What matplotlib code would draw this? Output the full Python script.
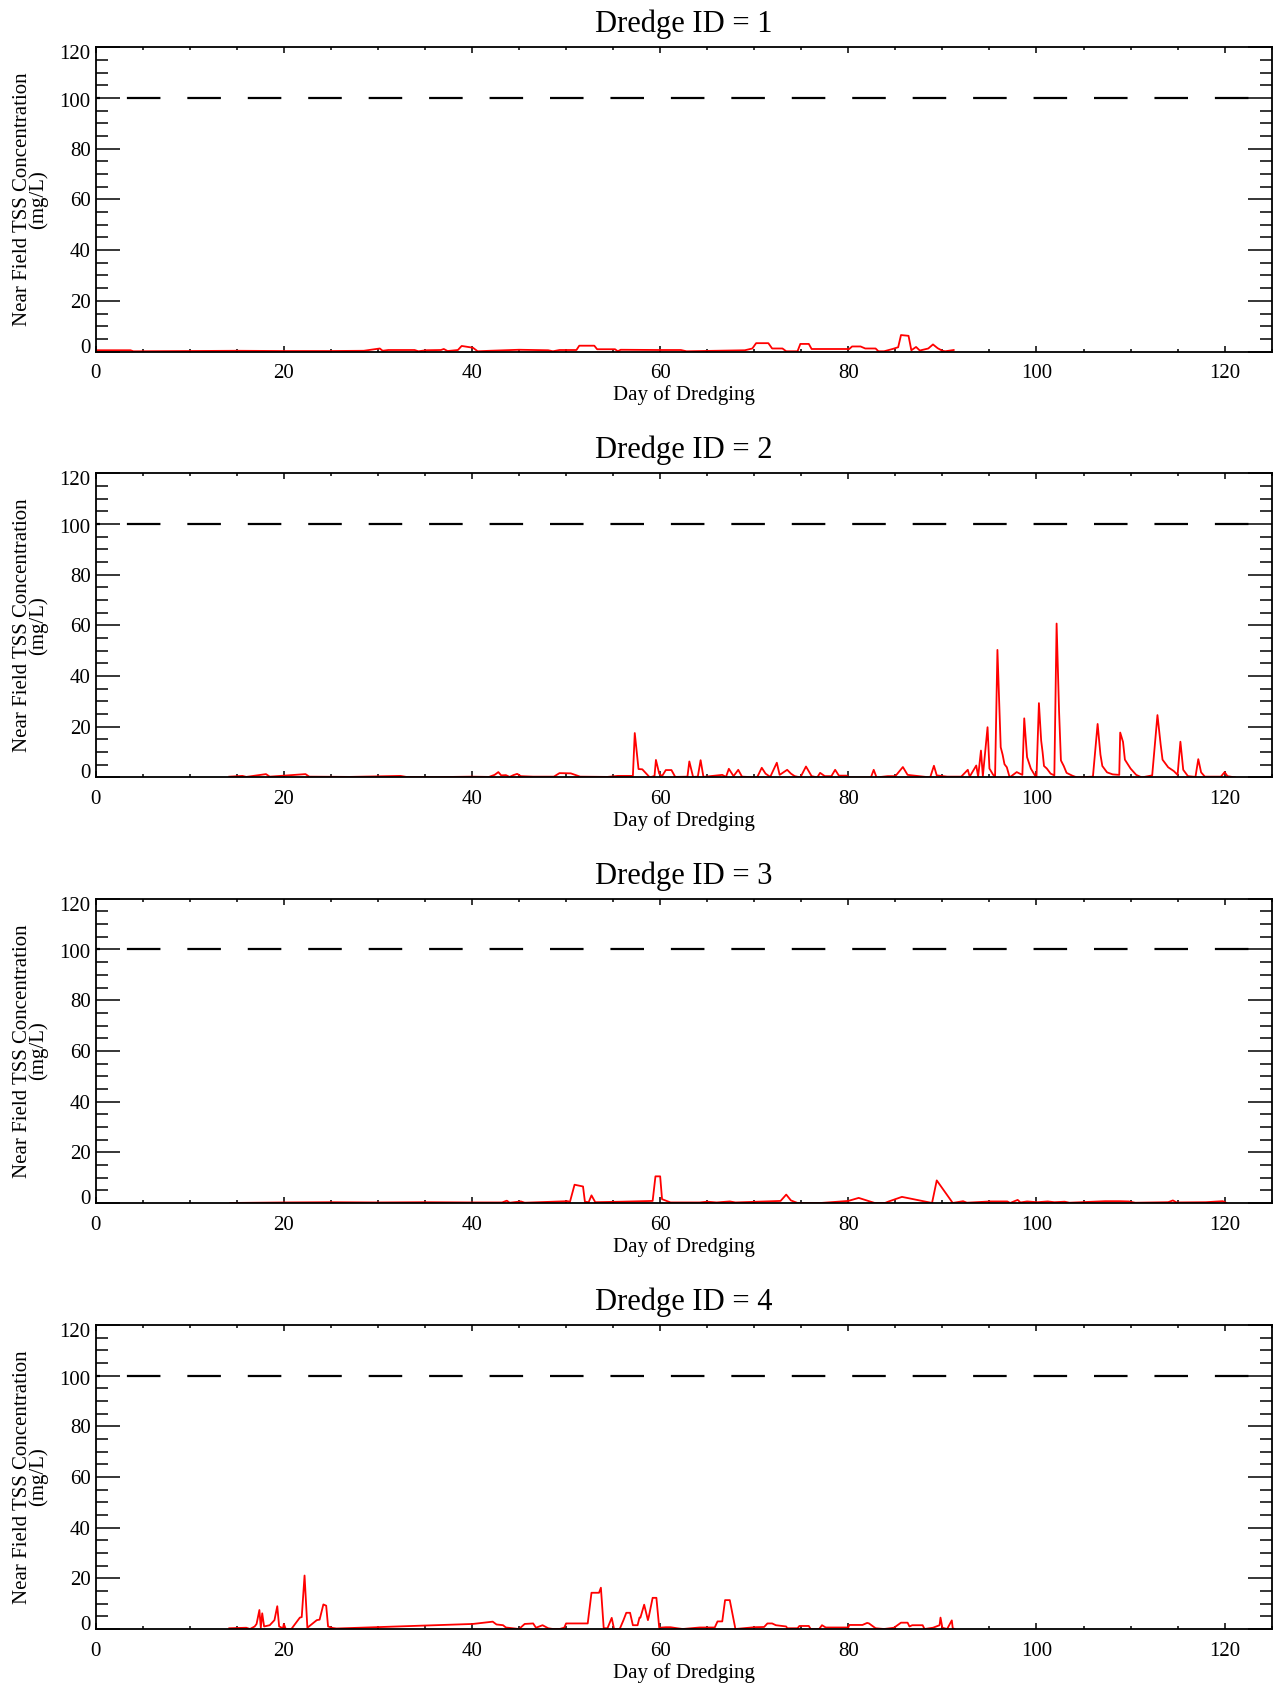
import matplotlib
matplotlib.use("Agg")
import matplotlib.pyplot as plt
import matplotlib.transforms as mtransforms
from matplotlib.ticker import MultipleLocator

plt.rcParams['font.family'] = ['Liberation Serif', 'DejaVu Serif']

# Near field TSS (mg/L) per day of dredging
day1 = [0, 3.7, 4.0, 10, 15, 20, 25, 28.5, 30.2, 30.5,
        31.1, 33.9, 34.3, 35.1, 36.7, 37.0, 37.4, 38.5, 38.9, 40.1,
        40.6, 41.9, 45.0, 48.1, 48.6, 49.3, 51.1, 51.4, 53.0, 53.3,
        55.2, 55.5, 55.8, 60.1, 62.2, 62.8, 69.0, 69.8, 70.2, 71.5,
        71.9, 73.0, 73.4, 74.6, 74.9, 75.8, 76.1, 77.0, 80.1, 80.4,
        81.3, 81.8, 82.9, 83.2, 83.8, 84.7, 85.3, 85.6, 86.4, 86.7,
        87.2, 87.6, 88.5, 89.0, 89.5, 90.0, 90.3, 91.2]
tss1 = [0.5, 0.5, 0.1, 0.2, 0.3, 0.2, 0.2, 0.3, 1.2, 0.3,
        0.6, 0.6, 0.1, 0.5, 0.6, 1.0, 0.2, 0.6, 2.2, 1.5,
        0.1, 0.3, 0.7, 0.5, 0.1, 0.6, 0.6, 2.3, 2.3, 0.9,
        0.9, 0.1, 0.7, 0.6, 0.6, 0.1, 0.5, 1.2, 3.3, 3.3,
        1.2, 1.2, 0.1, 0.1, 3.0, 3.0, 1.0, 1.0, 1.0, 2.0,
        2.0, 1.2, 1.2, 0.1, 0.1, 1.0, 1.7, 6.5, 6.2, 0.5,
        1.8, 0.4, 1.2, 2.8, 1.3, 0.3, 0.1, 0.6]

day2 = [14.2, 15.6, 16.0, 18.1, 18.5, 22.3, 22.7, 27.0, 32.4, 33.0,
        36.0, 39.9, 41.8, 42.4, 42.8, 43.1, 43.6, 44.0, 44.4, 44.8,
        45.2, 46.5, 48.7, 49.3, 50.5, 51.5, 54.4, 55.5, 57.1, 57.3,
        57.7, 58.1, 58.9, 59.4, 59.55, 59.9, 60.2, 60.6, 61.2, 61.6,
        62.9, 63.1, 63.5, 64.0, 64.3, 64.6, 66.6, 67.0, 67.3, 67.8,
        68.3, 68.7, 70.3, 70.8, 71.2, 71.7, 72.4, 72.7, 73.5, 73.9,
        74.3, 74.9, 75.5, 76.1, 76.7, 77.0, 77.5, 78.2, 78.6, 79.0,
        79.8, 80.2, 82.4, 82.7, 83.0, 84.2, 85.0, 85.8, 86.3, 88.7,
        89.1, 89.4, 90.5, 92.0, 92.7, 92.9, 93.6, 93.8, 94.1, 94.3,
        94.8, 95.0, 95.4, 95.6, 95.85, 96.2, 96.4, 96.6, 96.85, 97.15,
        97.9, 98.5, 98.7, 99.0, 99.4, 99.8, 100.0, 100.26, 100.5, 100.65,
        100.8, 101.1, 101.5, 101.9, 102.14, 102.4, 102.6, 102.9, 103.2, 103.8,
        104.3, 106.0, 106.5, 106.8, 107.0, 107.5, 108.1, 108.8, 108.9, 109.2,
        109.4, 110.0, 110.6, 111.2, 112.3, 112.86, 113.2, 113.4, 114.0, 114.6,
        115.0, 115.3, 115.6, 116.1, 116.9, 117.2, 117.5, 117.9, 119.6, 120.0,
        120.3, 121.1]
tss2 = [0.3, 0.6, 0.2, 1.3, 0.3, 1.3, 0.3, 0.2, 0.6, 0.2,
        0.1, 0.3, 0.2, 1.0, 2.1, 0.8, 0.9, 0.2, 0.9, 1.4,
        0.5, 0.3, 0.3, 1.7, 1.6, 0.3, 0.2, 0.6, 0.6, 17.5,
        3.3, 3.2, 0.0, 0.6, 6.9, 1.5, 0.5, 2.9, 2.9, 0.2,
        0.3, 6.3, 0.2, 0.3, 6.8, 0.2, 1.0, 0.2, 3.4, 0.5,
        3.0, 0.3, 0.0, 3.8, 1.5, 0.2, 5.8, 1.0, 3.0, 1.5,
        0.5, 0.0, 4.3, 0.5, 0.0, 1.8, 0.5, 0.5, 3.0, 0.7,
        0.7, 0.0, 0.0, 3.0, 0.0, 0.5, 0.5, 4.1, 1.0, 0.0,
        4.6, 0.8, 0.3, 0.3, 3.0, 0.3, 4.7, 0.3, 10.6, 0.5,
        19.8, 3.5, 1.0, 0.5, 50.3, 11.9, 9.0, 5.2, 4.0, 0.0,
        2.1, 1.0, 23.3, 8.0, 3.5, 1.0, 0.0, 29.3, 14.5, 10.0,
        4.5, 3.5, 1.5, 0.8, 60.7, 26.3, 6.7, 4.5, 1.8, 0.7,
        0.0, 0.3, 21.1, 9.0, 4.5, 2.0, 1.2, 1.0, 17.7, 14.0,
        7.0, 3.5, 1.0, 0.0, 0.8, 24.6, 13.0, 7.0, 4.0, 2.5,
        1.0, 14.1, 3.0, 0.5, 0.2, 7.2, 2.0, 0.3, 0.3, 2.1,
        0.5, 0.0]

day3 = [14.3, 20, 25, 30, 35, 40, 43.2, 43.7, 44.0, 45.2,
        45.6, 50.2, 50.4, 50.9, 51.8, 52.0, 52.4, 52.7, 53.1, 55.9,
        59.2, 59.5, 60.0, 60.2, 61.1, 64.2, 65.0, 66.0, 67.4, 68.0,
        72.8, 73.4, 73.9, 74.6, 77.1, 80.0, 81.1, 82.8, 83.9, 84.3,
        85.7, 88.9, 89.4, 91.1, 92.2, 92.6, 95.1, 96.9, 97.2, 98.0,
        98.3, 99.0, 100.1, 101.2, 101.9, 103.0, 103.5, 107.3, 108.8, 109.8,
        110.5, 114.0, 114.5, 114.9, 118.0, 119.8, 120.2]
tss3 = [0.0, 0.2, 0.3, 0.2, 0.3, 0.2, 0.2, 0.9, 0.1, 0.6,
        0.1, 0.7, 0.3, 7.2, 6.5, 0.5, 0.3, 3.0, 0.3, 0.5,
        0.8, 10.5, 10.5, 1.5, 0.2, 0.2, 0.5, 0.2, 0.6, 0.2,
        0.8, 3.3, 1.0, 0.0, 0.0, 0.8, 2.0, 0.0, 0.0, 0.6,
        2.4, 0.0, 8.9, 0.0, 0.7, 0.1, 0.6, 0.6, 0.0, 1.2,
        0.2, 0.6, 0.3, 0.6, 0.3, 0.5, 0.1, 0.7, 0.7, 0.6,
        0.1, 0.3, 1.0, 0.2, 0.3, 0.7, 0.0]

day4 = [14.2, 16.0, 16.4, 16.9, 17.1, 17.4, 17.55, 17.7, 17.9, 18.5,
        19.0, 19.3, 19.5, 19.9, 20.0, 20.2, 20.8, 21.2, 21.7, 21.9,
        22.2, 22.5, 23.0, 23.5, 23.8, 24.2, 24.5, 24.7, 25.2, 25.6,
        40.1, 42.2, 42.6, 43.3, 43.6, 45.0, 45.6, 46.5, 46.8, 47.5,
        48.1, 48.6, 49.3, 49.8, 50.0, 52.3, 52.7, 53.5, 53.7, 54.0,
        54.4, 54.85, 55.1, 55.7, 56.1, 56.4, 56.8, 57.1, 57.6, 57.8,
        57.9, 58.3, 58.7, 58.8, 59.2, 59.6, 59.9, 60.6, 61.1, 61.8,
        62.4, 64.2, 65.8, 66.1, 66.6, 66.9, 67.4, 68.0, 70.0, 71.05,
        71.4, 71.9, 72.3, 73.4, 73.5, 74.6, 74.8, 75.8, 76.0, 76.9,
        77.2, 77.6, 80.0, 80.1, 81.5, 82.0, 82.2, 82.9, 83.8, 84.85,
        85.6, 86.3, 86.5, 86.8, 87.9, 88.1, 89.0, 89.7, 89.8, 90.0,
        90.5, 91.0, 91.1, 91.3]
tss4 = [0.3, 0.5, 0.0, 1.0, 2.0, 7.5, 0.5, 6.2, 1.0, 1.5,
        3.5, 9.0, 1.0, 0.3, 2.0, 0.0, 0.0, 2.0, 4.5, 4.7,
        21.1, 0.5, 2.0, 3.5, 3.7, 9.7, 9.2, 1.0, 0.4, 0.2,
        2.0, 2.9, 1.8, 1.5, 0.6, 0.0, 2.0, 2.2, 0.5, 1.5,
        0.3, 0.0, 0.0, 0.5, 2.2, 2.2, 14.3, 14.3, 16.3, 0.3,
        0.3, 4.4, 0.0, 0.0, 3.5, 6.4, 6.4, 1.5, 1.5, 4.5,
        4.5, 9.6, 3.5, 5.0, 12.3, 12.3, 0.5, 0.7, 0.7, 0.3,
        0.0, 0.6, 0.6, 3.0, 3.0, 11.4, 11.4, 0.0, 0.7, 0.8,
        2.2, 2.2, 1.5, 1.0, 0.3, 0.3, 1.2, 1.2, 0.0, 0.0,
        1.5, 0.6, 0.6, 1.6, 1.6, 2.4, 2.2, 0.3, 0.0, 0.5,
        2.5, 2.5, 1.0, 1.5, 1.5, 0.0, 0.5, 1.5, 4.5, 0.5,
        0.0, 3.4, 0.3, 0.0]

days = [day1, day2, day3, day4]
tss = [tss1, tss2, tss3, tss4]
dredge_ids = [1, 2, 3, 4]
threshold = 100

fig = plt.figure(figsize=(12.76, 16.86), dpi=100)
bottoms = [0.7915, 0.5389, 0.2865, 0.0338]

for i in range(4):
    ax = fig.add_axes([0.075, bottoms[i], 0.9216, 0.1804])
    ax.plot(days[i], tss[i], color='red', lw=1.3)
    ax.plot([0, 125], [threshold, threshold], color='black', lw=1.6,
            ls=(13.3, (15.1, 12.1)))
    ax.set_xlim(0, 125)
    ax.set_ylim(0, 120)
    ax.xaxis.set_major_locator(MultipleLocator(20))
    ax.xaxis.set_minor_locator(MultipleLocator(5))
    ax.yaxis.set_major_locator(MultipleLocator(20))
    ax.yaxis.set_minor_locator(MultipleLocator(5))
    ax.tick_params(which='both', direction='in', top=True, right=True,
                   labelsize=15, colors='black')
    ax.tick_params(axis='y', which='major', length=17, width=1.1, pad=3.7)
    ax.tick_params(axis='y', which='minor', length=8.8, width=1.1)
    ax.tick_params(axis='x', which='major', length=4, width=1.1, pad=9.2)
    ax.tick_params(axis='x', which='minor', length=2.5, width=1.1)
    for sp in ax.spines.values():
        sp.set_linewidth(1.3)

    ax.set_title('Dredge ID = %d' % dredge_ids[i], fontsize=22, pad=11)
    ax.set_xlabel('Day of Dredging', fontsize=15, labelpad=1.5)
    ax.set_ylabel('Near Field TSS Concentration\n(mg/L)', fontsize=15,
                  linespacing=0.72)
    ax.yaxis.set_label_coords(-0.0406, 0.5)

    # IDL nudges the end labels inside the axis range
    ax.set_yticks([0, 20, 40, 60, 80, 100, 120])
    labels = ax.get_yticklabels()
    shifts = {0: 6, 5: -2, 6: -5}
    for k, dy in shifts.items():
        off = mtransforms.ScaledTranslation(0, dy / 100, fig.dpi_scale_trans)
        labels[k].set_transform(labels[k].get_transform() + off)

fig.savefig('out.png', dpi=100)
